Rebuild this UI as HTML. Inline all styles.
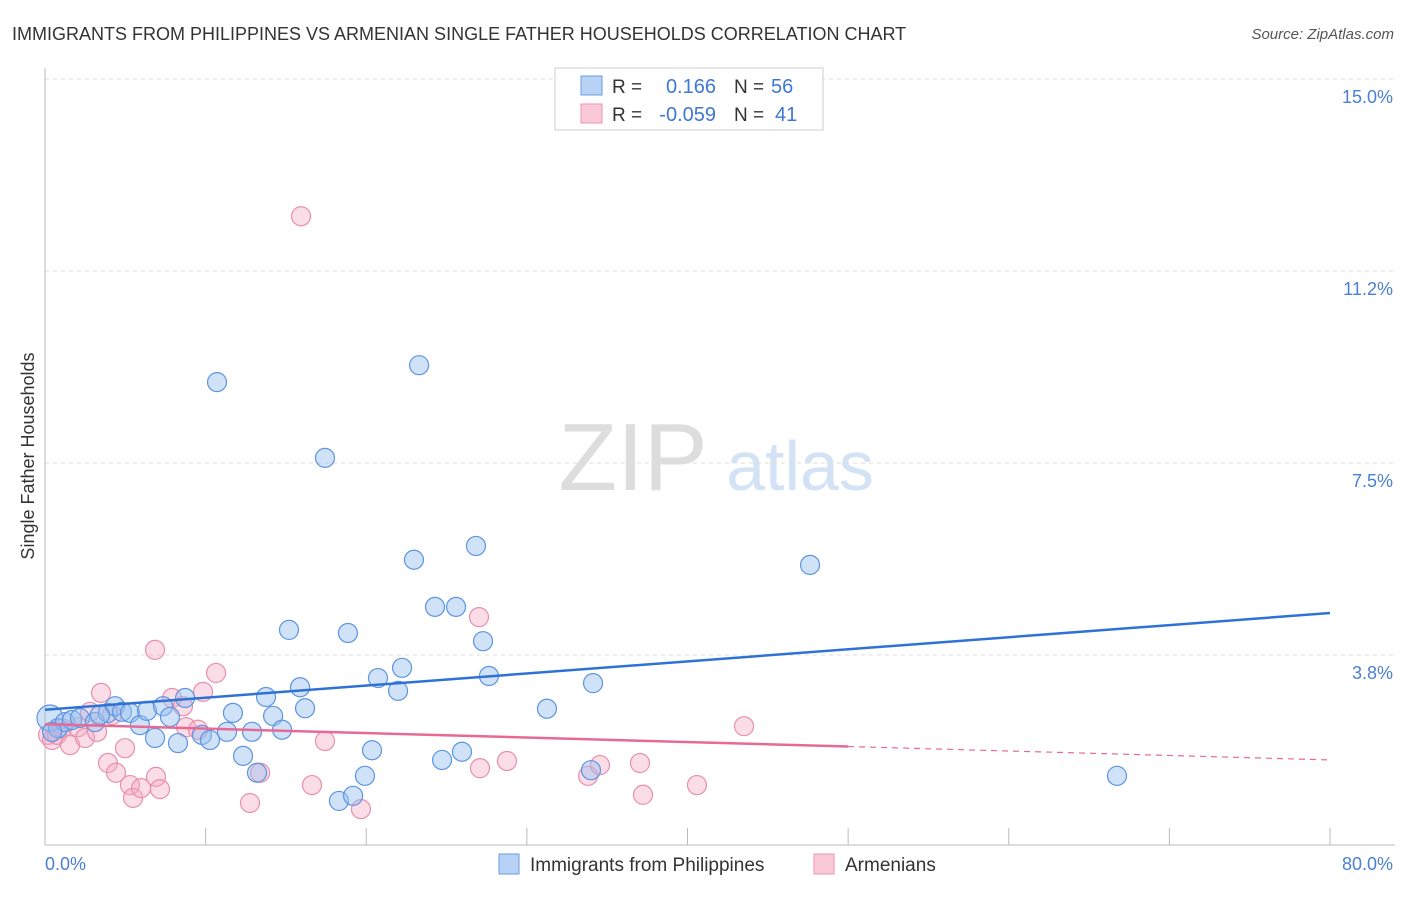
<!DOCTYPE html>
<html><head><meta charset="utf-8"><style>
body{margin:0;background:#fff;font-family:"Liberation Sans",sans-serif}
svg text{font-family:"Liberation Sans",sans-serif}
</style></head><body>
<svg id="chart" width="1406" height="892" xmlns="http://www.w3.org/2000/svg">
<text x="12" y="40" font-size="18" fill="#333">IMMIGRANTS FROM PHILIPPINES VS ARMENIAN SINGLE FATHER HOUSEHOLDS CORRELATION CHART</text>
<text x="1394" y="39" font-size="15" fill="#555" font-style="italic" text-anchor="end">Source: ZipAtlas.com</text>
<g>
<text x="633" y="490" font-size="96" fill="#ddd" font-family="Liberation Serif,serif" text-anchor="middle">ZIP</text>
<text x="800" y="490" font-size="70" fill="#d4e2f5" text-anchor="middle">atlas</text>
</g>
<g id="grid"></g><g id="axes"></g><g id="marks"></g>
<text transform="translate(34,456) rotate(-90)" font-size="18" fill="#333" text-anchor="middle">Single Father Households</text>
<g>
<rect x="555" y="68" width="268" height="62" fill="#fff" stroke="#ccc"/>
<rect x="581" y="76" width="21" height="19" fill="#b8d2f5" stroke="#6a9de0"/>
<rect x="581" y="104" width="21" height="19" fill="#f9c9d8" stroke="#eb93b0"/>
<text x="612" y="93" font-size="19" fill="#333">R =</text><text x="716" y="93" font-size="20" fill="#3f78d4" text-anchor="end">0.166</text>
<text x="734" y="93" font-size="19" fill="#333">N =</text><text x="771" y="93" font-size="20" fill="#3f78d4">56</text>
<text x="612" y="121" font-size="19" fill="#333">R =</text><text x="716" y="121" font-size="20" fill="#3f78d4" text-anchor="end">-0.059</text>
<text x="734" y="121" font-size="19" fill="#333">N =</text><text x="775" y="121" font-size="20" fill="#3f78d4">41</text>
</g>
<g>
<rect x="499" y="854" width="20" height="20" fill="#b8d2f5" stroke="#6a9de0"/>
<text x="530" y="871" font-size="19" fill="#333">Immigrants from Philippines</text>
<rect x="814" y="854" width="20" height="20" fill="#f9c9d8" stroke="#eb93b0"/>
<text x="845" y="871" font-size="19" fill="#333">Armenians</text>
</g>
</svg>
<script>
const yTicks=[3.75,7.5,11.25,15];
const yTickLabels=["3.8%","7.5%","11.2%","15.0%"];
const xTicks=[0,10,20,30,40,50,60,70,80];
const xTickLabels=["0.0%","80.0%"];
const blueX=[0.31,0.81,1.25,1.68,2.18,3.11,3.92,4.36,4.79,5.29,5.91,6.35,6.85,7.35,7.78,8.28,8.72,9.77,10.27,10.71,11.33,11.70,12.33,12.89,13.20,13.76,14.20,14.76,15.19,15.88,16.19,17.43,18.30,18.86,19.18,19.92,20.36,20.73,21.98,22.23,22.97,23.29,24.28,24.72,25.59,25.96,26.83,27.27,27.64,31.25,33.99,34.12,47.63,66.74,0.44,3.42];
const blueY=[2.52,2.32,2.44,2.48,2.52,2.44,2.62,2.75,2.64,2.62,2.38,2.66,2.13,2.75,2.54,2.03,2.91,2.19,2.09,9.08,2.25,2.62,1.78,2.25,1.45,2.93,2.56,2.29,4.24,3.12,2.71,7.60,0.90,4.18,1.00,1.39,1.89,3.30,3.05,3.50,5.61,9.41,4.69,1.70,4.69,1.86,5.88,4.02,3.34,2.70,1.50,3.20,5.51,1.39,2.25,2.58];
const pinkX=[0.19,0.44,0.75,1.06,1.56,2.05,2.49,2.80,3.24,3.49,3.92,4.42,4.98,5.29,5.48,5.98,6.85,6.91,7.16,7.91,8.59,8.78,9.53,9.84,10.65,12.76,13.39,15.94,16.62,17.43,19.67,27.02,27.08,28.76,33.81,34.55,37.04,37.23,40.59,43.52,4.17];
const pinkY=[2.19,2.09,2.19,2.32,1.99,2.34,2.13,2.64,2.25,3.01,1.64,1.45,1.93,1.21,0.96,1.15,3.85,1.37,1.13,2.91,2.75,2.34,2.29,3.03,3.40,0.86,1.45,12.32,1.21,2.07,0.74,4.49,1.54,1.68,1.39,1.60,1.64,1.02,1.21,2.36,2.58];
const blueTrend=[2.68,4.57];
const pinkTrend=[2.40,1.70];
const pinkSolidEnd=50;
const NS="http://www.w3.org/2000/svg";
const X0=45,X1=1330,Y0=847,PXPER=192/3.75;
function sx(v){return X0+(v/80)*(X1-X0);}
function sy(v){return Y0-v*PXPER;}
function mk(tag,attrs,parent){const e=document.createElementNS(NS,tag);for(const k in attrs)e.setAttribute(k,attrs[k]);parent.appendChild(e);return e;}
const grid=document.getElementById('grid'),axes=document.getElementById('axes'),marks=document.getElementById('marks');
yTicks.forEach((t,i)=>{
 const l=mk('line',{x1:45,x2:1395,y1:sy(t),y2:sy(t),stroke:'#ddd','stroke-dasharray':'4,4'},grid);
 
 
 const tx=mk('text',{x:1393,y:sy(t)+24,'font-size':18,fill:'#4a7fd4','text-anchor':'end'},grid);
 tx.textContent=yTickLabels[i];
 
 
});
const ya=mk('line',{x1:45,x2:45,y1:68,y2:845,stroke:'#bbb'},axes);


const xa=mk('line',{x1:45,x2:1395,y1:845,y2:845,stroke:'#bbb'},axes);


xTicks.forEach(t=>{
 const l=mk('line',{x1:sx(t),x2:sx(t),y1:828,y2:845,stroke:'#bbb'},axes);
 
 
});
const xl0=mk('text',{x:45,y:870,'font-size':18,fill:'#4a7fd4'},axes);xl0.textContent=xTickLabels[0];


const xl1=mk('text',{x:1393,y:870,'font-size':18,fill:'#4a7fd4','text-anchor':'end'},axes);xl1.textContent=xTickLabels[1];


function pts(xs,ys,fill,stroke,name){
 xs.forEach((x,i)=>{
  const c=mk('circle',{cx:sx(x),cy:sy(ys[i]),r:(i===0&&name==='blue-point')?13:9.5,fill:fill,stroke:stroke,'stroke-width':1.2},marks);
  
  
 });
}
pts(pinkX,pinkY,'rgba(245,165,192,0.38)','#e98fae','pink-point');
pts(blueX,blueY,'rgba(150,190,240,0.45)','#5d95e0','blue-point');
function ty(tr,x){return tr[0]+(tr[1]-tr[0])*x/80;}
const bl=mk('line',{x1:sx(0),y1:sy(ty(blueTrend,0)),x2:sx(80),y2:sy(ty(blueTrend,80)),stroke:'#2f72d6','stroke-width':2.5},marks);


const pl=mk('line',{x1:sx(0),y1:sy(ty(pinkTrend,0)),x2:sx(pinkSolidEnd),y2:sy(ty(pinkTrend,pinkSolidEnd)),stroke:'#e86a94','stroke-width':2.5},marks);


const pd=mk('line',{x1:sx(pinkSolidEnd),y1:sy(ty(pinkTrend,pinkSolidEnd)),x2:sx(80),y2:sy(ty(pinkTrend,80)),stroke:'#e86a94','stroke-width':1.2,'stroke-dasharray':'6,5'},marks);


</script>
</body></html>
